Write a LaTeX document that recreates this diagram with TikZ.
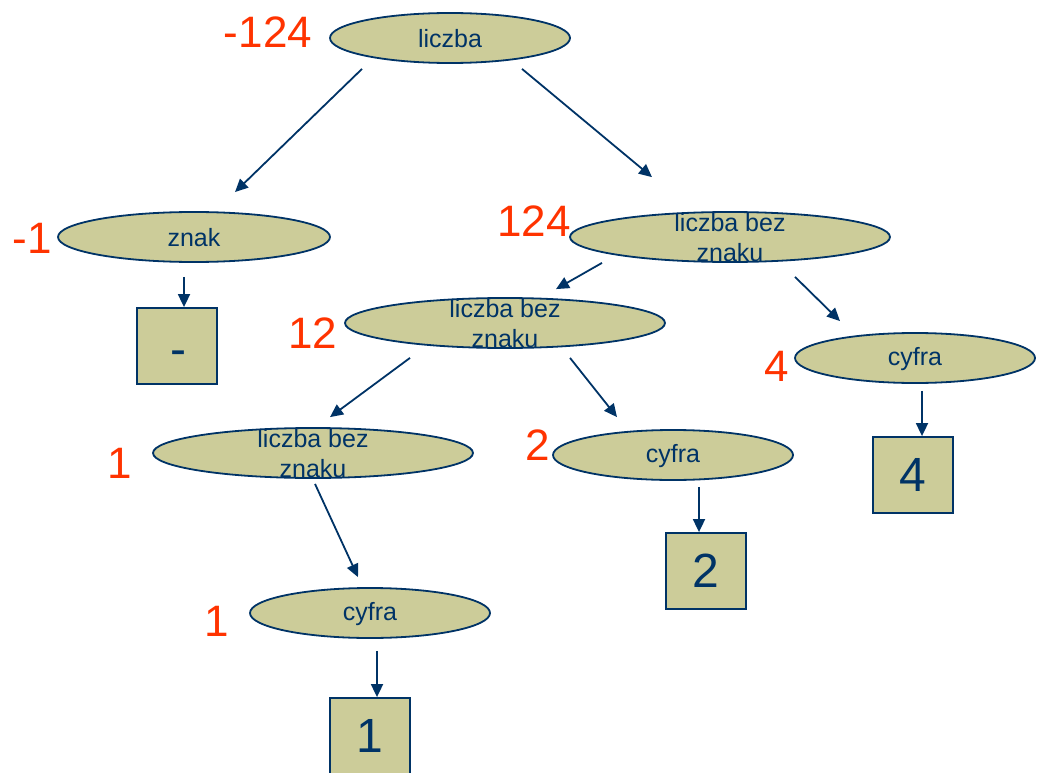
\documentclass[tikz,border=0pt]{standalone}
\usepackage{fontspec}
\setmainfont{Liberation Sans}
\usetikzlibrary{arrows.meta,shapes.geometric}
\definecolor{navy}{RGB}{0,51,102}
\definecolor{khaki}{RGB}{204,204,153}
\definecolor{valred}{RGB}{255,51,0}
\begin{document}
\begin{tikzpicture}[x=1pt,y=-1pt,
  sym/.style={ellipse,draw=navy,line width=1.8pt,fill=khaki,inner sep=0pt,
    minimum height=50pt},
  wide/.style={sym,minimum width=320pt},
  narrow/.style={sym,minimum width=240pt},
  znakw/.style={sym,minimum width=272pt},
  symtext/.style={text=navy,font=\fontsize{25}{30}\selectfont,align=center,inner sep=0pt},
  leaf/.style={draw=navy,line width=1.8pt,fill=khaki,minimum width=80pt,
    minimum height=76pt,inner sep=0pt,text=navy,font=\fontsize{48}{50}\selectfont},
  leaftext/.style={text=navy,font=\fontsize{48}{50}\selectfont,inner sep=0pt},
  val/.style={text=valred,font=\fontsize{44}{46}\selectfont,inner sep=0pt},
  arr/.style={draw=navy,line width=1.8pt,-{Triangle[length=13pt,width=12pt]}}]
\useasboundingbox (0,0) rectangle (1041,773);

% nonterminal symbols
\node[narrow] (liczba) at (450,38) {};
\node[symtext] (tliczba) at (450,39) {liczba};
\node[znakw] (znak) at (194,237) {};
\node[symtext] (tznak) at (194,238) {znak};
\node[wide] (lbzA) at (730,237) {};
\node[symtext] (tlbzA) at (730,238) {liczba bez\\znaku};
\node[wide] (lbzB) at (505,323) {};
\node[symtext] (tlbzB) at (505,324) {liczba bez\\znaku};
\node[narrow] (cyfA) at (915,358) {};
\node[symtext] (tcyfA) at (915,359) {cyfra};
\node[wide] (lbzC) at (313,453) {};
\node[symtext] (tlbzC) at (313,454) {liczba bez\\znaku};
\node[narrow] (cyfB) at (673,455) {};
\node[symtext] (tcyfB) at (673,456) {cyfra};
\node[narrow] (cyfC) at (370,613) {};
\node[symtext] (tcyfC) at (370,614) {cyfra};

% terminal symbols
\node[leaf] (minus) at (177,346) {};
\node[leaftext] (tminus) at (178,358) {-};
\node[leaf] (four) at (913,475) {4};
\node[leaf] (two) at (706,571) {2};
\node[leaf] (one) at (370,736) {1};

% values
\node[val] (v1) at (268,32) {-124};
\node[val] (v2) at (32,238) {-1};
\node[val] (v3) at (534,221) {124};
\node[val] (v4) at (313,333) {12};
\node[val] (v5) at (777,366) {4};
\node[val] (v6) at (120,463) {1};
\node[val] (v7) at (538,445) {2};
\node[val] (v8) at (217,621) {1};

% derivation arrows
\draw[arr] ([shift={(-88,5)}]liczba.south) -- ([shift={(41,-19)}]znak.north);
\draw[arr] ([shift={(72,5)}]liczba.south) -- ([shift={(-78,-34)}]lbzA.north);
\draw[arr] ([shift={(-10,14)}]znak.south) -- ([shift={(7,0)}]minus.north);
\draw[arr] ([shift={(-128,0)}]lbzA.south) -- ([shift={(51,-8)}]lbzB.north);
\draw[arr] ([shift={(65,14)}]lbzA.south) -- ([shift={(-75,-11)}]cyfA.north);
\draw[arr] ([shift={(-95,9)}]lbzB.south) -- ([shift={(17,-10)}]lbzC.north);
\draw[arr] ([shift={(65,9)}]lbzB.south) -- ([shift={(-56,-12)}]cyfB.north);
\draw[arr] ([shift={(7,7)}]cyfA.south) -- ([shift={(9,0)}]four.north);
\draw[arr] ([shift={(26,6)}]cyfB.south) -- ([shift={(-7,0)}]two.north);
\draw[arr] ([shift={(2,5)}]lbzC.south) -- ([shift={(-12,-10)}]cyfC.north);
\draw[arr] ([shift={(7,12)}]cyfC.south) -- ([shift={(7,0)}]one.north);
\end{tikzpicture}
\end{document}
